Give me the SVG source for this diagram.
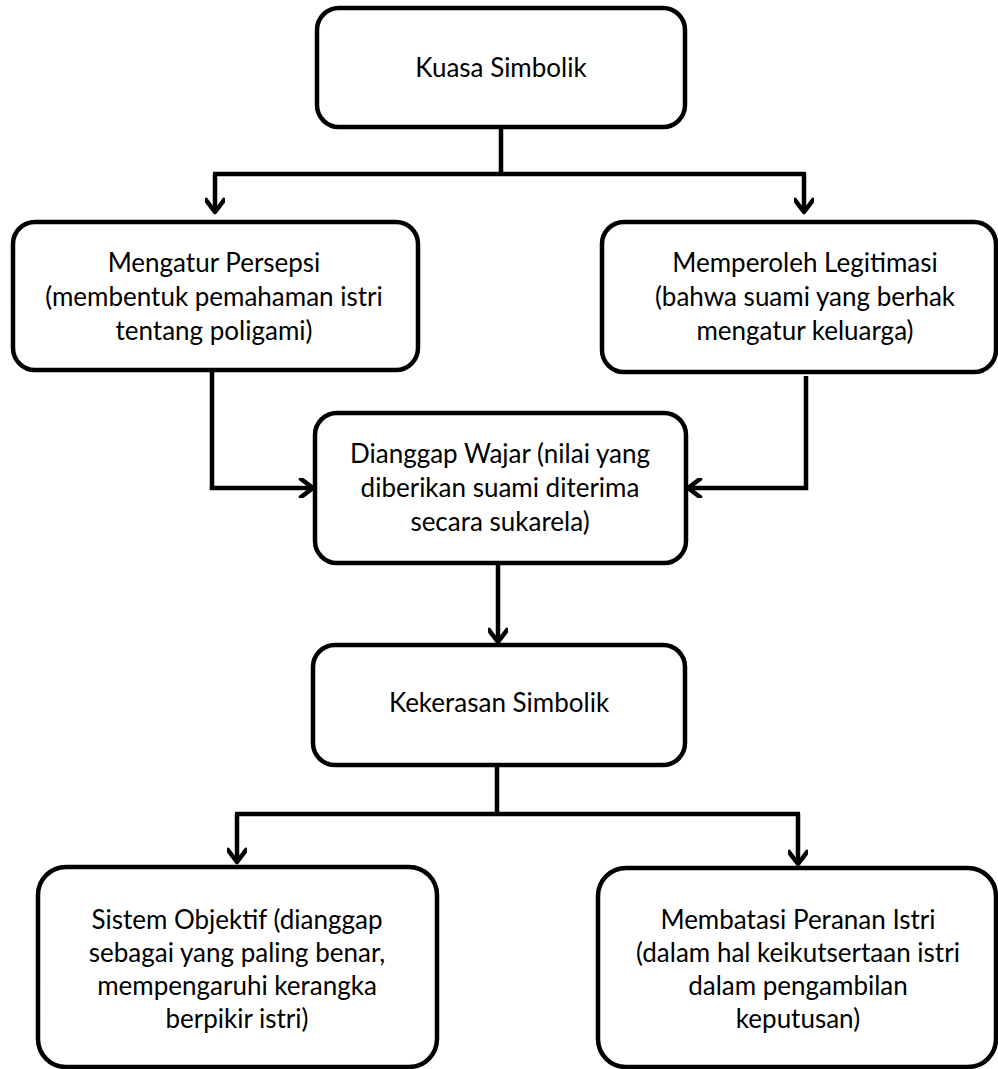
<svg xmlns="http://www.w3.org/2000/svg" width="998" height="1069" viewBox="0 0 998 1069">
<defs>
<style>
.box{fill:#fff;stroke:#000;stroke-width:4.5}
.t{font-family:Lato,"Open Sans",sans-serif;font-size:26px;fill:#000;text-anchor:middle}
.c{fill:none;stroke:#000;stroke-width:4.5;stroke-linejoin:miter}
</style>
<marker id="ah" viewBox="0 0 20 20" refX="17" refY="10" markerWidth="20" markerHeight="20" markerUnits="userSpaceOnUse" orient="auto">
<path d="M5,1 L17,10 L5,19" fill="none" stroke="#000" stroke-width="4.5" stroke-linecap="round" stroke-linejoin="round"/>
</marker>
</defs>
<rect width="998" height="1069" fill="#fff"/>
<g id="connectors">
<path class="c" d="M501,127 V174 M213,174 H806"/>
<path class="c" d="M215,174 V212" marker-end="url(#ah)"/>
<path class="c" d="M804,174 V212" marker-end="url(#ah)"/>
<path class="c" d="M212,370 V488 H313" marker-end="url(#ah)"/>
<path class="c" d="M806,376 V488 H688" marker-end="url(#ah)"/>
<path class="c" d="M498,563 V642" marker-end="url(#ah)"/>
<path class="c" d="M497,765 V814 M235,814 H800"/>
<path class="c" d="M237,814 V862" marker-end="url(#ah)"/>
<path class="c" d="M798,814 V864" marker-end="url(#ah)"/>
</g>
<g id="kuasa">
<rect class="box" x="317" y="8" width="368" height="119" rx="22"/>
<text class="t" x="501" y="77">Kuasa Simbolik</text>
</g>
<g id="mengatur">
<rect class="box" x="13" y="222" width="405" height="148" rx="22"/>
<text class="t" x="214" y="272">Mengatur Persepsi</text>
<text class="t" x="214" y="306">(membentuk pemahaman istri</text>
<text class="t" x="214" y="340">tentang poligami)</text>
</g>
<g id="memperoleh">
<rect class="box" x="602" y="222" width="394" height="150" rx="22"/>
<text class="t" x="805" y="272">Memperoleh Legitimasi</text>
<text class="t" x="805" y="306">(bahwa suami yang berhak</text>
<text class="t" x="805" y="340">mengatur keluarga)</text>
</g>
<g id="dianggap">
<rect class="box" x="315" y="413" width="371" height="150" rx="22"/>
<text class="t" x="500" y="463">Dianggap Wajar (nilai yang</text>
<text class="t" x="500" y="497">diberikan suami diterima</text>
<text class="t" x="500" y="531">secara sukarela)</text>
</g>
<g id="kekerasan">
<rect class="box" x="313" y="645" width="372" height="120" rx="22"/>
<text class="t" x="499" y="712">Kekerasan Simbolik</text>
</g>
<g id="sistem">
<rect class="box" x="38" y="867" width="399" height="200" rx="28"/>
<text class="t" x="237" y="929">Sistem Objektif (dianggap</text>
<text class="t" x="237" y="962">sebagai yang paling benar,</text>
<text class="t" x="237" y="995">mempengaruhi kerangka</text>
<text class="t" x="237" y="1028">berpikir istri)</text>
</g>
<g id="membatasi">
<rect class="box" x="598" y="868" width="398" height="199" rx="28"/>
<text class="t" x="798" y="929">Membatasi Peranan Istri</text>
<text class="t" x="798" y="962">(dalam hal keikutsertaan istri</text>
<text class="t" x="798" y="995">dalam pengambilan</text>
<text class="t" x="798" y="1028">keputusan)</text>
</g>
</svg>
